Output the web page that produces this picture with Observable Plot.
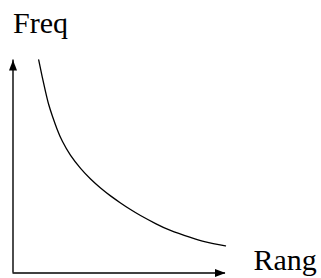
<!DOCTYPE html>
<html>
<head>
<meta charset="utf-8">
<script src="https://cdn.jsdelivr.net/npm/d3@7"></script>
<script src="https://cdn.jsdelivr.net/npm/@observablehq/plot@0.6"></script>
<style>
  html, body { margin: 0; padding: 0; background: #fff; }
</style>
</head>
<body>
<div id="chart"></div>
<script>
// Data (rank vs frequency, arbitrary units)
const rank = [12.1, 13.7, 15.3, 16.8, 18.6, 20.8, 23.3, 27.1, 31.8, 36.5, 41.2, 45.9, 50.6, 55.3, 60.0, 67.1, 74.1, 83.5, 90.6, 100];
const freq = [100, 92.3, 85.2, 79.1, 73.5, 67.4, 61.7, 55.2, 49.1, 44.1, 39.9, 36.2, 32.9, 29.8, 27.0, 23.2, 20.0, 16.7, 14.6, 12.7];
const xExtent = [0, 100];
const yExtent = [0, 100];
const yLabel = "Freq";
const xLabel = "Rang";

const curve = rank.map((r, i) => ({rank: r, freq: freq[i]}));

// custom arrowhead symbol with its tip at the origin, pointing up
const arrowHead = {
  draw(context) {
    context.moveTo(0, 0);
    context.lineTo(-4, 10.5);
    context.lineTo(4, 10.5);
    context.closePath();
  }
};

const font = "'Liberation Serif', 'Times New Roman', serif";

const chart = Plot.plot({
  width: 321,
  height: 278,
  marginLeft: 12.5,
  marginRight: 96,
  marginTop: 59.5,
  marginBottom: 5.5,
  x: {domain: xExtent, axis: null},
  y: {domain: yExtent, axis: null},
  style: {fontFamily: font, background: "#fff", overflow: "visible"},
  marks: [
    // axes
    Plot.ruleY([yExtent[0]], {x1: xExtent[0], x2: xExtent[1], stroke: "black", strokeWidth: 1.4}),
    Plot.ruleX([xExtent[0]], {y1: yExtent[0], y2: yExtent[1], stroke: "black", strokeWidth: 1.4}),
    Plot.dot([{x: xExtent[0], y: yExtent[1]}], {x: "x", y: "y", symbol: arrowHead, fill: "black", stroke: "none"}),
    Plot.dot([{x: xExtent[1], y: yExtent[0]}], {x: "x", y: "y", symbol: arrowHead, fill: "black", stroke: "none", rotate: 90}),
    // curve
    Plot.line(curve, {x: "rank", y: "freq", curve: "natural", stroke: "black", strokeWidth: 1.3}),
    // labels
    Plot.text([yLabel], {frameAnchor: "top-left", text: d => d, textAnchor: "start", lineAnchor: "bottom", dx: 0, dy: -27.5, fontSize: 30, fill: "black", fontFamily: font}),
    Plot.text([xLabel], {frameAnchor: "bottom-right", text: d => d, textAnchor: "start", lineAnchor: "bottom", dx: 28, dy: -3, fontSize: 30, fill: "black", fontFamily: font})
  ]
});

document.getElementById("chart").appendChild(chart);
</script>
</body>
</html>
